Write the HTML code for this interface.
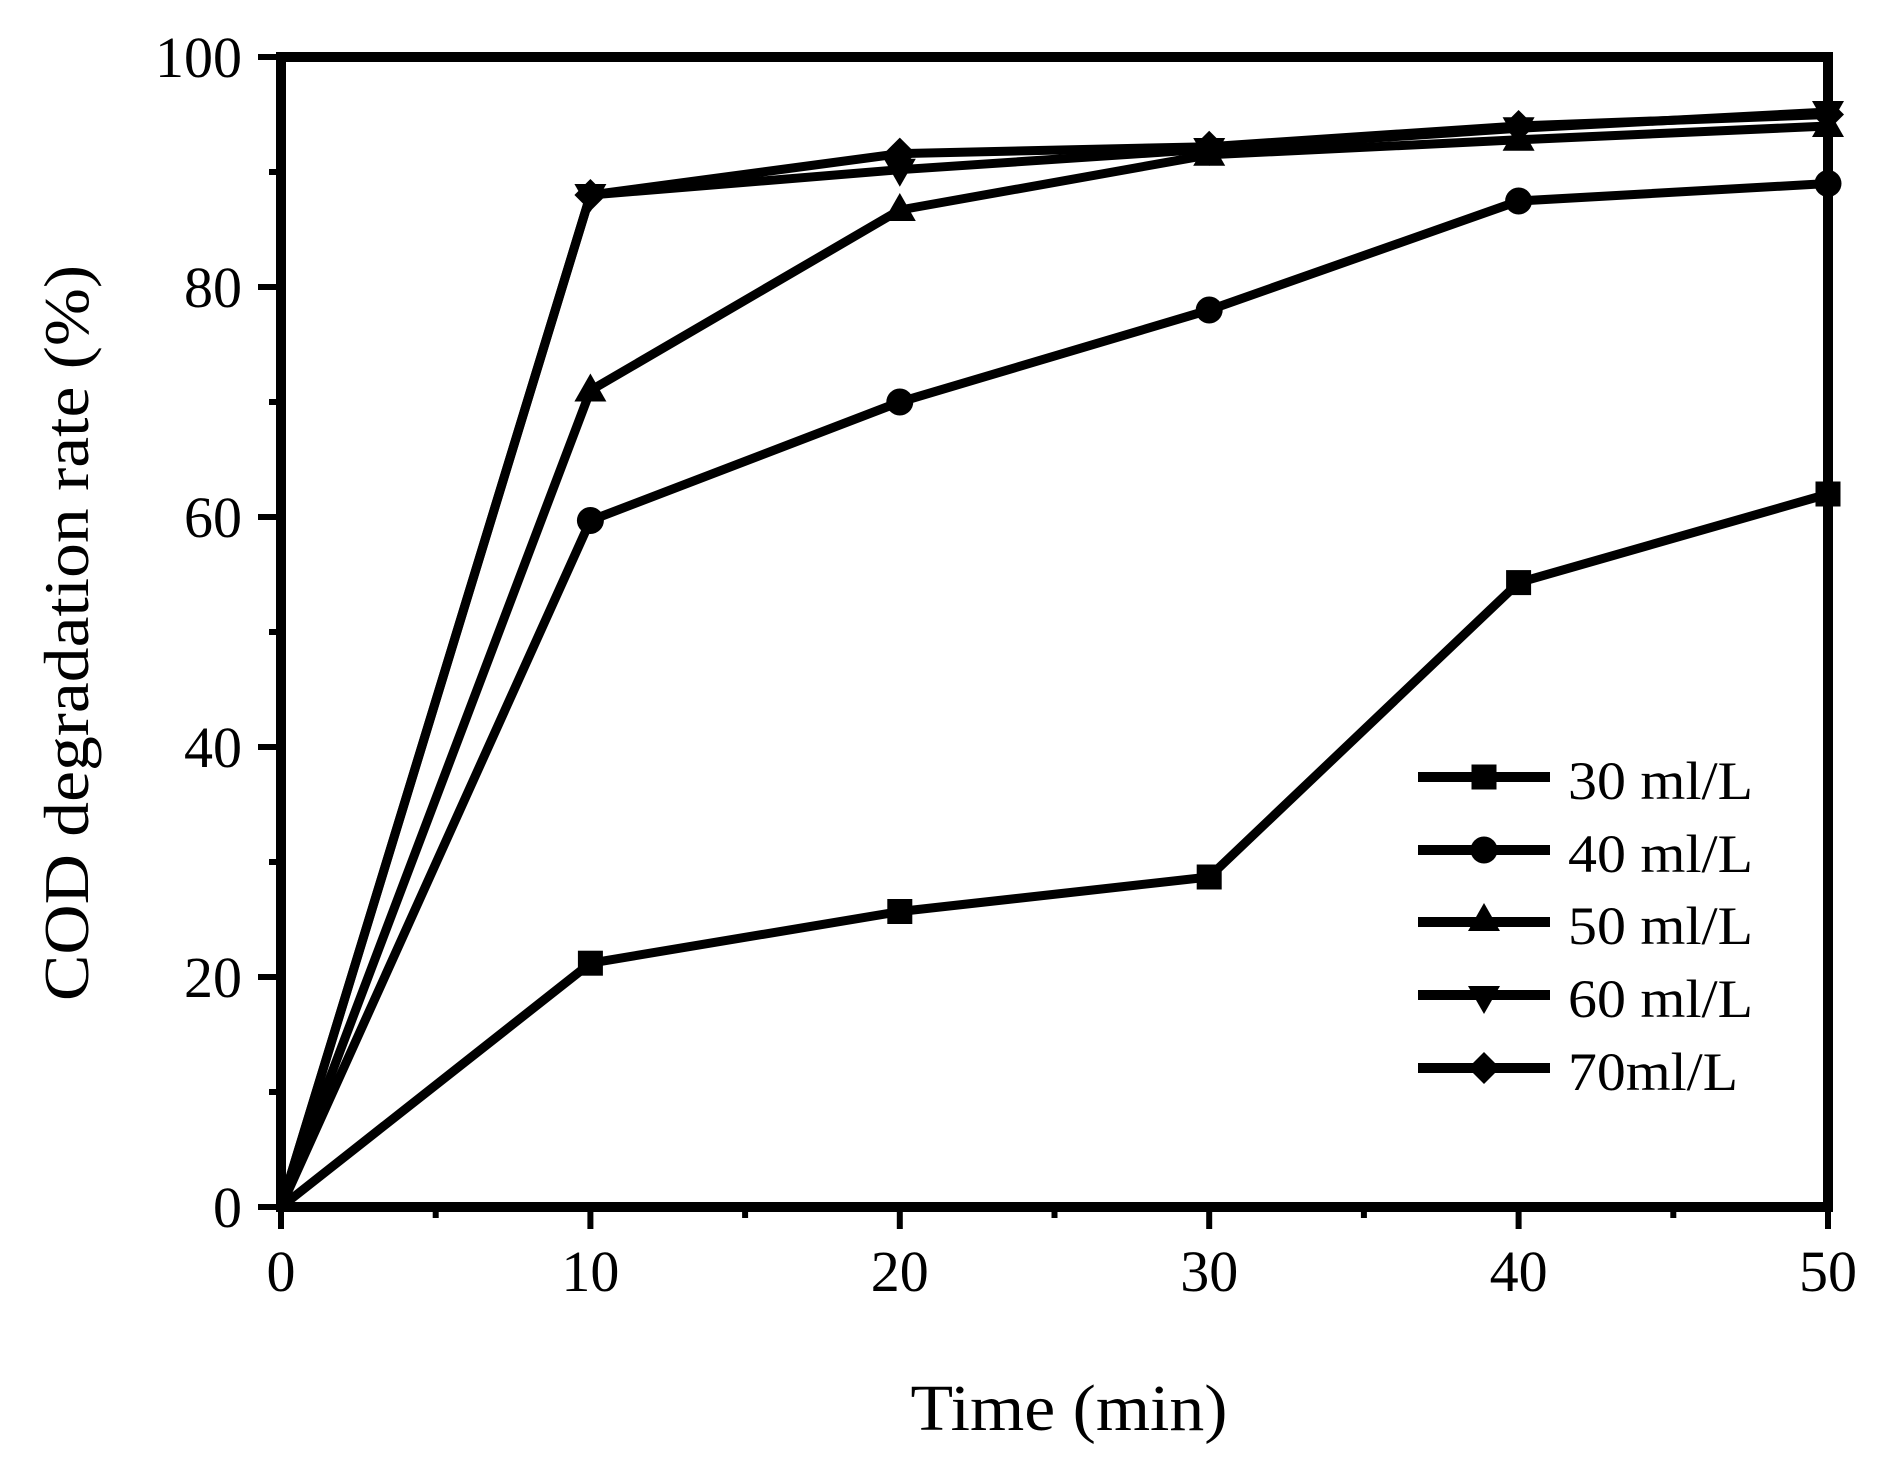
<!DOCTYPE html>
<html><head><meta charset="utf-8"><style>html,body{margin:0;padding:0;background:#fff}svg{display:block}text{font-family:"Liberation Serif","Times New Roman",serif}</style></head><body>
<svg width="1882" height="1461" viewBox="0 0 1882 1461" xmlns="http://www.w3.org/2000/svg">
<rect width="1882" height="1461" fill="#fff"/>
<defs>
<rect id="sq" x="-12.5" y="-12.5" width="25" height="25" fill="#000"/>
<circle id="ci" r="13.5" fill="#000"/>
<polygon id="tu" points="0,-17 16,11 -16,11" fill="#000"/>
<polygon id="td" points="0,17 16,-11 -16,-11" fill="#000"/>
<polygon id="di" points="0,-16 16,0 0,16 -16,0" fill="#000"/>
</defs>
<g stroke="#000" stroke-width="6">
<line x1="281" y1="1207" x2="281" y2="1229"/><line x1="590.4" y1="1207" x2="590.4" y2="1229"/><line x1="899.8" y1="1207" x2="899.8" y2="1229"/><line x1="1209.2" y1="1207" x2="1209.2" y2="1229"/><line x1="1518.6" y1="1207" x2="1518.6" y2="1229"/><line x1="1828" y1="1207" x2="1828" y2="1229"/>
<line x1="435.7" y1="1207" x2="435.7" y2="1218"/><line x1="745.1" y1="1207" x2="745.1" y2="1218"/><line x1="1054.5" y1="1207" x2="1054.5" y2="1218"/><line x1="1363.9" y1="1207" x2="1363.9" y2="1218"/><line x1="1673.3" y1="1207" x2="1673.3" y2="1218"/>
<line x1="258" y1="1207" x2="281" y2="1207"/><line x1="258" y1="977" x2="281" y2="977"/><line x1="258" y1="747" x2="281" y2="747"/><line x1="258" y1="517" x2="281" y2="517"/><line x1="258" y1="287" x2="281" y2="287"/><line x1="258" y1="57" x2="281" y2="57"/>
<line x1="269" y1="1092" x2="281" y2="1092"/><line x1="269" y1="862" x2="281" y2="862"/><line x1="269" y1="632" x2="281" y2="632"/><line x1="269" y1="402" x2="281" y2="402"/><line x1="269" y1="172" x2="281" y2="172"/>
</g>
<rect x="281" y="57" width="1547" height="1150" fill="none" stroke="#000" stroke-width="10"/>
<g font-size="58" text-anchor="middle">
<text x="281" y="1291">0</text><text x="590.4" y="1291">10</text><text x="899.8" y="1291">20</text><text x="1209.2" y="1291">30</text><text x="1518.6" y="1291">40</text><text x="1828" y="1291">50</text>
</g>
<g font-size="58" text-anchor="end">
<text x="242" y="1227">0</text><text x="242" y="997">20</text><text x="242" y="767">40</text><text x="242" y="537">60</text><text x="242" y="307">80</text><text x="242" y="77">100</text>
</g>
<text x="1069" y="1430" font-size="66" text-anchor="middle" textLength="317" lengthAdjust="spacingAndGlyphs">Time (min)</text>
<text transform="translate(88,633) rotate(-90)" font-size="64" text-anchor="middle" textLength="736" lengthAdjust="spacingAndGlyphs">COD degradation rate (%)</text>
<g fill="none" stroke="#000" stroke-width="9" stroke-linejoin="round">
<polyline points="281,1207 590.4,963.2 899.8,911.5 1209.2,877 1518.6,582.6 1828,494"/>
<polyline points="281,1207 590.4,520.5 899.8,402 1209.2,310 1518.6,201 1828,183.5"/>
<polyline points="281,1207 590.4,390.5 899.8,210 1209.2,154.8 1518.6,139.8 1828,126"/>
<polyline points="281,1207 590.4,195 899.8,169.7 1209.2,149 1518.6,128.3 1828,112"/>
<polyline points="281,1207 590.4,195 899.8,153.6 1209.2,146.7 1518.6,126 1828,114.5"/>
</g>
<g>
<use href="#sq" x="590.4" y="963.2"/><use href="#sq" x="899.8" y="911.5"/><use href="#sq" x="1209.2" y="877"/><use href="#sq" x="1518.6" y="582.6"/><use href="#sq" x="1828" y="494"/>
<use href="#ci" x="590.4" y="520.5"/><use href="#ci" x="899.8" y="402"/><use href="#ci" x="1209.2" y="310"/><use href="#ci" x="1518.6" y="201"/><use href="#ci" x="1828" y="183.5"/>
<use href="#tu" x="590.4" y="390.5"/><use href="#tu" x="899.8" y="210"/><use href="#tu" x="1209.2" y="154.8"/><use href="#tu" x="1518.6" y="139.8"/><use href="#tu" x="1828" y="126"/>
<use href="#td" x="590.4" y="195"/><use href="#td" x="899.8" y="169.7"/><use href="#td" x="1209.2" y="149"/><use href="#td" x="1518.6" y="128.3"/><use href="#td" x="1828" y="112"/>
<use href="#di" x="590.4" y="195"/><use href="#di" x="899.8" y="153.6"/><use href="#di" x="1209.2" y="146.7"/><use href="#di" x="1518.6" y="126"/><use href="#di" x="1828" y="114.5"/>
</g>
<g stroke="#000" stroke-width="10">
<line x1="1418" y1="777" x2="1550" y2="777"/><line x1="1418" y1="850" x2="1550" y2="850"/><line x1="1418" y1="922" x2="1550" y2="922"/><line x1="1418" y1="995" x2="1550" y2="995"/><line x1="1418" y1="1068" x2="1550" y2="1068"/>
</g>
<use href="#sq" x="1484" y="777"/><use href="#ci" x="1484" y="850"/><use href="#tu" x="1484" y="920"/><use href="#td" x="1484" y="997"/><use href="#di" x="1484" y="1068"/>
<g font-size="54">
<text x="1568" y="799" textLength="185" lengthAdjust="spacingAndGlyphs">30 ml/L</text><text x="1568" y="872" textLength="185" lengthAdjust="spacingAndGlyphs">40 ml/L</text><text x="1568" y="944" textLength="185" lengthAdjust="spacingAndGlyphs">50 ml/L</text><text x="1568" y="1017" textLength="185" lengthAdjust="spacingAndGlyphs">60 ml/L</text><text x="1568" y="1090" textLength="170" lengthAdjust="spacingAndGlyphs">70ml/L</text>
</g>
</svg>
</body></html>
